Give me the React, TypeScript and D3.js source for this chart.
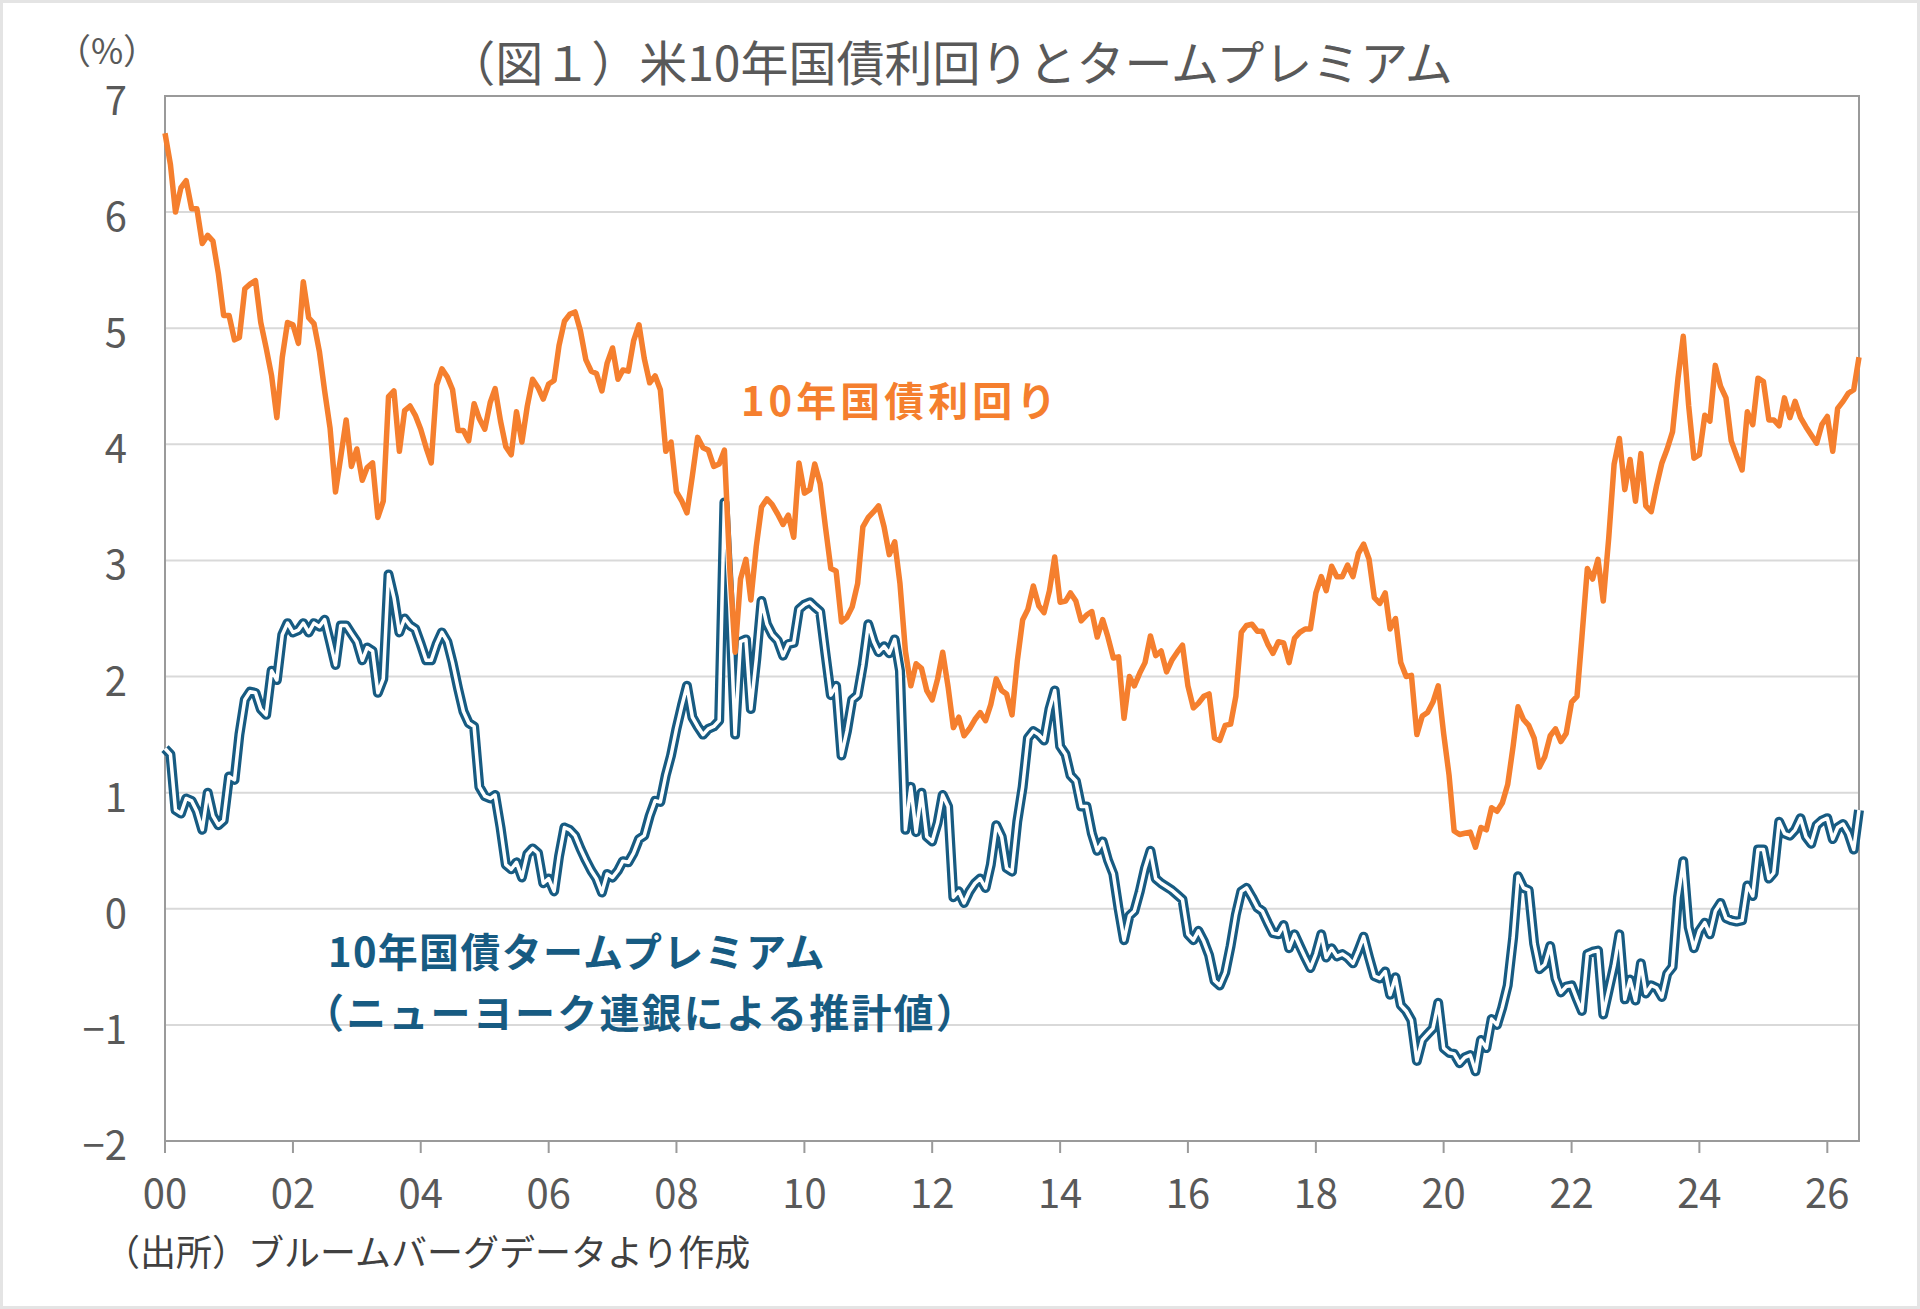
import * as d3 from "d3";

// 月次（月末）データ、2000年1月〜2026年7月
const START_MONTH = new Date(2000, 0, 1);

// 米10年国債利回り (%)
const YIELD_10Y = [
  6.68, 6.41, 6.0, 6.21, 6.27, 6.03, 6.03, 5.73, 5.8, 5.75, 5.47, 5.11, // 2000
  5.11, 4.9, 4.92, 5.34, 5.38, 5.41, 5.05, 4.83, 4.59, 4.23, 4.75, 5.05, // 2001
  5.03, 4.87, 5.4, 5.09, 5.04, 4.8, 4.46, 4.14, 3.59, 3.89, 4.21, 3.81, // 2002
  3.96, 3.69, 3.8, 3.84, 3.37, 3.51, 4.41, 4.46, 3.94, 4.29, 4.33, 4.25, // 2003
  4.13, 3.97, 3.84, 4.51, 4.65, 4.58, 4.47, 4.12, 4.12, 4.03, 4.35, 4.22, // 2004
  4.13, 4.36, 4.48, 4.2, 3.98, 3.91, 4.28, 4.02, 4.33, 4.56, 4.49, 4.39, // 2005
  4.52, 4.55, 4.85, 5.06, 5.12, 5.14, 4.98, 4.73, 4.63, 4.61, 4.46, 4.7, // 2006
  4.83, 4.56, 4.64, 4.63, 4.89, 5.03, 4.74, 4.53, 4.59, 4.47, 3.94, 4.02, // 2007
  3.59, 3.51, 3.41, 3.73, 4.06, 3.97, 3.95, 3.81, 3.83, 3.95, 2.92, 2.21, // 2008
  2.84, 3.01, 2.66, 3.12, 3.46, 3.53, 3.48, 3.4, 3.31, 3.39, 3.2, 3.84, // 2009
  3.58, 3.61, 3.83, 3.66, 3.29, 2.93, 2.91, 2.47, 2.51, 2.6, 2.8, 3.29, // 2010
  3.37, 3.42, 3.47, 3.29, 3.05, 3.16, 2.8, 2.22, 1.92, 2.11, 2.07, 1.88, // 2011
  1.8, 1.98, 2.21, 1.91, 1.56, 1.65, 1.49, 1.55, 1.63, 1.69, 1.62, 1.76, // 2012
  1.98, 1.88, 1.85, 1.67, 2.13, 2.49, 2.58, 2.78, 2.61, 2.55, 2.74, 3.03, // 2013
  2.64, 2.65, 2.72, 2.65, 2.48, 2.53, 2.56, 2.34, 2.49, 2.34, 2.16, 2.17, // 2014
  1.64, 2.0, 1.92, 2.03, 2.12, 2.35, 2.18, 2.22, 2.04, 2.14, 2.21, 2.27, // 2015
  1.92, 1.73, 1.77, 1.83, 1.85, 1.47, 1.45, 1.58, 1.59, 1.83, 2.38, 2.44, // 2016
  2.45, 2.39, 2.39, 2.28, 2.2, 2.3, 2.29, 2.12, 2.33, 2.38, 2.41, 2.41, // 2017
  2.72, 2.86, 2.74, 2.95, 2.86, 2.86, 2.96, 2.86, 3.06, 3.14, 3.01, 2.68, // 2018
  2.63, 2.72, 2.41, 2.5, 2.12, 2.0, 2.01, 1.5, 1.66, 1.69, 1.78, 1.92, // 2019
  1.51, 1.15, 0.67, 0.64, 0.65, 0.66, 0.53, 0.7, 0.68, 0.87, 0.84, 0.91, // 2020
  1.07, 1.4, 1.74, 1.63, 1.58, 1.47, 1.22, 1.31, 1.49, 1.55, 1.44, 1.51, // 2021
  1.78, 1.83, 2.34, 2.93, 2.84, 3.01, 2.65, 3.19, 3.83, 4.05, 3.61, 3.87, // 2022
  3.51, 3.92, 3.47, 3.42, 3.64, 3.84, 3.96, 4.11, 4.57, 4.93, 4.33, 3.88, // 2023
  3.91, 4.25, 4.2, 4.68, 4.5, 4.4, 4.03, 3.9, 3.78, 4.28, 4.17, 4.57, // 2024
  4.54, 4.21, 4.21, 4.16, 4.4, 4.23, 4.37, 4.23, 4.15, 4.08, 4.01, 4.17, // 2025
  4.24, 3.94, 4.31, 4.37, 4.44, 4.47, 4.75, // 2026
];

// 10年国債タームプレミアム（NY連銀 ACM推計値, %）
const TERM_PREMIUM = [
  1.38, 1.33, 0.85, 0.82, 0.95, 0.93, 0.84, 0.68, 1.0, 0.8, 0.72, 0.76, // 2000
  1.14, 1.11, 1.5, 1.8, 1.87, 1.86, 1.72, 1.67, 2.05, 1.97, 2.36, 2.46, // 2001
  2.38, 2.4, 2.46, 2.38, 2.46, 2.43, 2.49, 2.3, 2.1, 2.44, 2.44, 2.37, // 2002
  2.3, 2.14, 2.25, 2.22, 1.86, 1.98, 2.88, 2.68, 2.38, 2.5, 2.44, 2.41, // 2003
  2.28, 2.14, 2.14, 2.28, 2.38, 2.3, 2.12, 1.9, 1.7, 1.6, 1.57, 1.05, // 2004
  0.97, 0.95, 0.98, 0.7, 0.38, 0.34, 0.4, 0.27, 0.47, 0.52, 0.48, 0.22, // 2005
  0.26, 0.15, 0.45, 0.7, 0.68, 0.63, 0.52, 0.42, 0.33, 0.26, 0.14, 0.3, // 2006
  0.27, 0.33, 0.41, 0.4, 0.48, 0.6, 0.63, 0.8, 0.93, 0.92, 1.15, 1.32, // 2007
  1.55, 1.75, 1.92, 1.65, 1.57, 1.5, 1.55, 1.57, 1.62, 3.5, 2.6, 1.5, // 2008
  2.3, 2.32, 1.72, 2.15, 2.65, 2.45, 2.36, 2.31, 2.18, 2.28, 2.29, 2.58, // 2009
  2.62, 2.64, 2.6, 2.56, 2.2, 1.84, 1.92, 1.32, 1.53, 1.8, 1.84, 2.1, // 2010
  2.45, 2.3, 2.21, 2.26, 2.2, 2.32, 2.05, 0.68, 1.05, 0.66, 1.0, 0.62, // 2011
  0.58, 0.74, 0.98, 0.88, 0.1, 0.15, 0.05, 0.15, 0.22, 0.26, 0.18, 0.38, // 2012
  0.72, 0.62, 0.35, 0.32, 0.75, 1.05, 1.47, 1.53, 1.5, 1.45, 1.72, 1.88, // 2013
  1.4, 1.33, 1.15, 1.1, 0.88, 0.88, 0.65, 0.5, 0.58, 0.42, 0.3, 0.0, // 2014
  -0.27, -0.06, -0.02, 0.15, 0.35, 0.5, 0.26, 0.22, 0.19, 0.16, 0.12, 0.08, // 2015
  -0.22, -0.27, -0.19, -0.28, -0.4, -0.62, -0.66, -0.55, -0.32, -0.05, 0.15, 0.18, // 2016
  0.1, 0.01, -0.02, -0.12, -0.21, -0.22, -0.14, -0.34, -0.22, -0.32, -0.42, -0.51, // 2017
  -0.39, -0.22, -0.42, -0.34, -0.41, -0.39, -0.42, -0.47, -0.36, -0.24, -0.42, -0.58, // 2018
  -0.6, -0.54, -0.74, -0.59, -0.83, -0.88, -0.96, -1.31, -1.13, -1.08, -1.03, -0.81, // 2019
  -1.2, -1.24, -1.25, -1.33, -1.28, -1.26, -1.4, -1.13, -1.2, -0.95, -1.0, -0.85, // 2020
  -0.66, -0.25, 0.28, 0.18, 0.16, -0.3, -0.52, -0.48, -0.32, -0.6, -0.72, -0.67, // 2021
  -0.66, -0.78, -0.88, -0.39, -0.37, -0.36, -0.91, -0.7, -0.49, -0.22, -0.78, -0.61, // 2022
  -0.79, -0.47, -0.73, -0.66, -0.68, -0.76, -0.56, -0.5, 0.1, 0.41, -0.16, -0.34, // 2023
  -0.19, -0.12, -0.22, -0.02, 0.05, -0.08, -0.1, -0.11, -0.1, 0.2, 0.11, 0.51, // 2024
  0.51, 0.26, 0.31, 0.75, 0.65, 0.63, 0.68, 0.78, 0.62, 0.56, 0.72, 0.76, // 2025
  0.78, 0.6, 0.7, 0.73, 0.65, 0.51, 0.85, // 2026
];

const X_TICK_YEARS = [2000, 2002, 2004, 2006, 2008, 2010, 2012, 2014, 2016, 2018, 2020, 2022, 2024, 2026];
const Y_TICKS = [-2, -1, 0, 1, 2, 3, 4, 5, 6, 7];

const TITLE = "（図１）米10年国債利回りとタームプレミアム";
const SOURCE = "（出所）ブルームバーグデータより作成";

const W = 1920;
const H = 1309;
const margin = { top: 96, right: 61, bottom: 168, left: 165 };

const ORANGE = "#F57F2E";
const BLUE = "#175B82";
const GREY_TEXT = "#595959";
const FONT = "'Noto Sans CJK JP', 'Noto Sans', sans-serif";

export default function App() {
  const months = YIELD_10Y.map((_, i) => d3.timeMonth.offset(START_MONTH, i));

  const x = d3
    .scaleTime()
    .domain([months[0], months[months.length - 1]])
    .range([margin.left, W - margin.right]);

  const y = d3
    .scaleLinear()
    .domain([-2, 7])
    .range([H - margin.bottom, margin.top]);

  const line = d3
    .line<number>()
    .x((_, i) => x(months[i]))
    .y((d) => y(d));

  const yieldPath = line(YIELD_10Y) ?? "";
  const premiumPath = line(TERM_PREMIUM) ?? "";
  const fmt = d3.format("d");

  const plotW = W - margin.left - margin.right;
  const plotH = H - margin.top - margin.bottom;

  return (
    <svg
      width={W}
      height={H}
      style={{ position: "absolute", left: 0, top: 0, display: "block" }}
      fontFamily={FONT}
    >
      <rect x={0} y={0} width={W} height={H} fill="#e4e4e4" />
      <rect x={3} y={3} width={W - 6} height={H - 6} fill="#ffffff" />

      {/* grid */}
      {Y_TICKS.map((t) => (
        <line
          key={`g${t}`}
          x1={margin.left}
          x2={W - margin.right}
          y1={y(t)}
          y2={y(t)}
          stroke="#d9d9d9"
          strokeWidth={2}
        />
      ))}

      {/* plot frame */}
      <rect
        x={margin.left}
        y={margin.top}
        width={plotW}
        height={plotH}
        fill="none"
        stroke="#9a9a9a"
        strokeWidth={2}
      />

      {/* x ticks */}
      {X_TICK_YEARS.map((yr) => {
        const px = x(new Date(yr, 0, 1));
        return (
          <g key={`x${yr}`}>
            <line x1={px} x2={px} y1={y(-2)} y2={y(-2) + 12} stroke="#9a9a9a" strokeWidth={2} />
            <text
              x={px}
              y={1191}
              textAnchor="middle"
              dominantBaseline="central"
              fontSize={40}
              fill={GREY_TEXT}
            >
              {String(yr % 100).padStart(2, "0")}
            </text>
          </g>
        );
      })}

      {/* y labels */}
      {Y_TICKS.map((t) => (
        <text
          key={`y${t}`}
          x={127}
          y={y(t) + 2}
          textAnchor="end"
          dominantBaseline="central"
          fontSize={40}
          fill={GREY_TEXT}
        >
          {t < 0 ? `−${fmt(-t)}` : fmt(t)}
        </text>
      ))}

      <text x={107} y={48} textAnchor="middle" dominantBaseline="central" fontSize={35} fill={GREY_TEXT}>
        （%）
      </text>

      {/* term premium: double line */}
      <path d={premiumPath} fill="none" stroke={BLUE} strokeWidth={10} strokeLinejoin="round" />
      <path d={premiumPath} fill="none" stroke="#ffffff" strokeWidth={3.5} strokeLinejoin="round" />

      {/* 10y yield */}
      <path d={yieldPath} fill="none" stroke={ORANGE} strokeWidth={5.5} strokeLinejoin="round" />

      {/* annotations */}
      <text
        x={741}
        y={399}
        dominantBaseline="central"
        fontSize={40}
        fontWeight={700}
        letterSpacing={4}
        fill={ORANGE}
      >
        10年国債利回り
      </text>
      <text x={328} y={950} dominantBaseline="central" fontSize={40} fontWeight={700} letterSpacing={1.3} fill={BLUE}>
        10年国債タームプレミアム
      </text>
      <text x={304} y={1011} dominantBaseline="central" fontSize={40} fontWeight={700} letterSpacing={2.2} fill={BLUE}>
        （ニューヨーク連銀による推計値）
      </text>

      {/* title */}
      <text x={950} y={60} textAnchor="middle" dominantBaseline="central" fontSize={48} fill={GREY_TEXT}>
        {TITLE}
      </text>

      {/* source */}
      <text x={104} y={1250} dominantBaseline="central" fontSize={36} fill="#404040">
        {SOURCE}
      </text>
    </svg>
  );
}
